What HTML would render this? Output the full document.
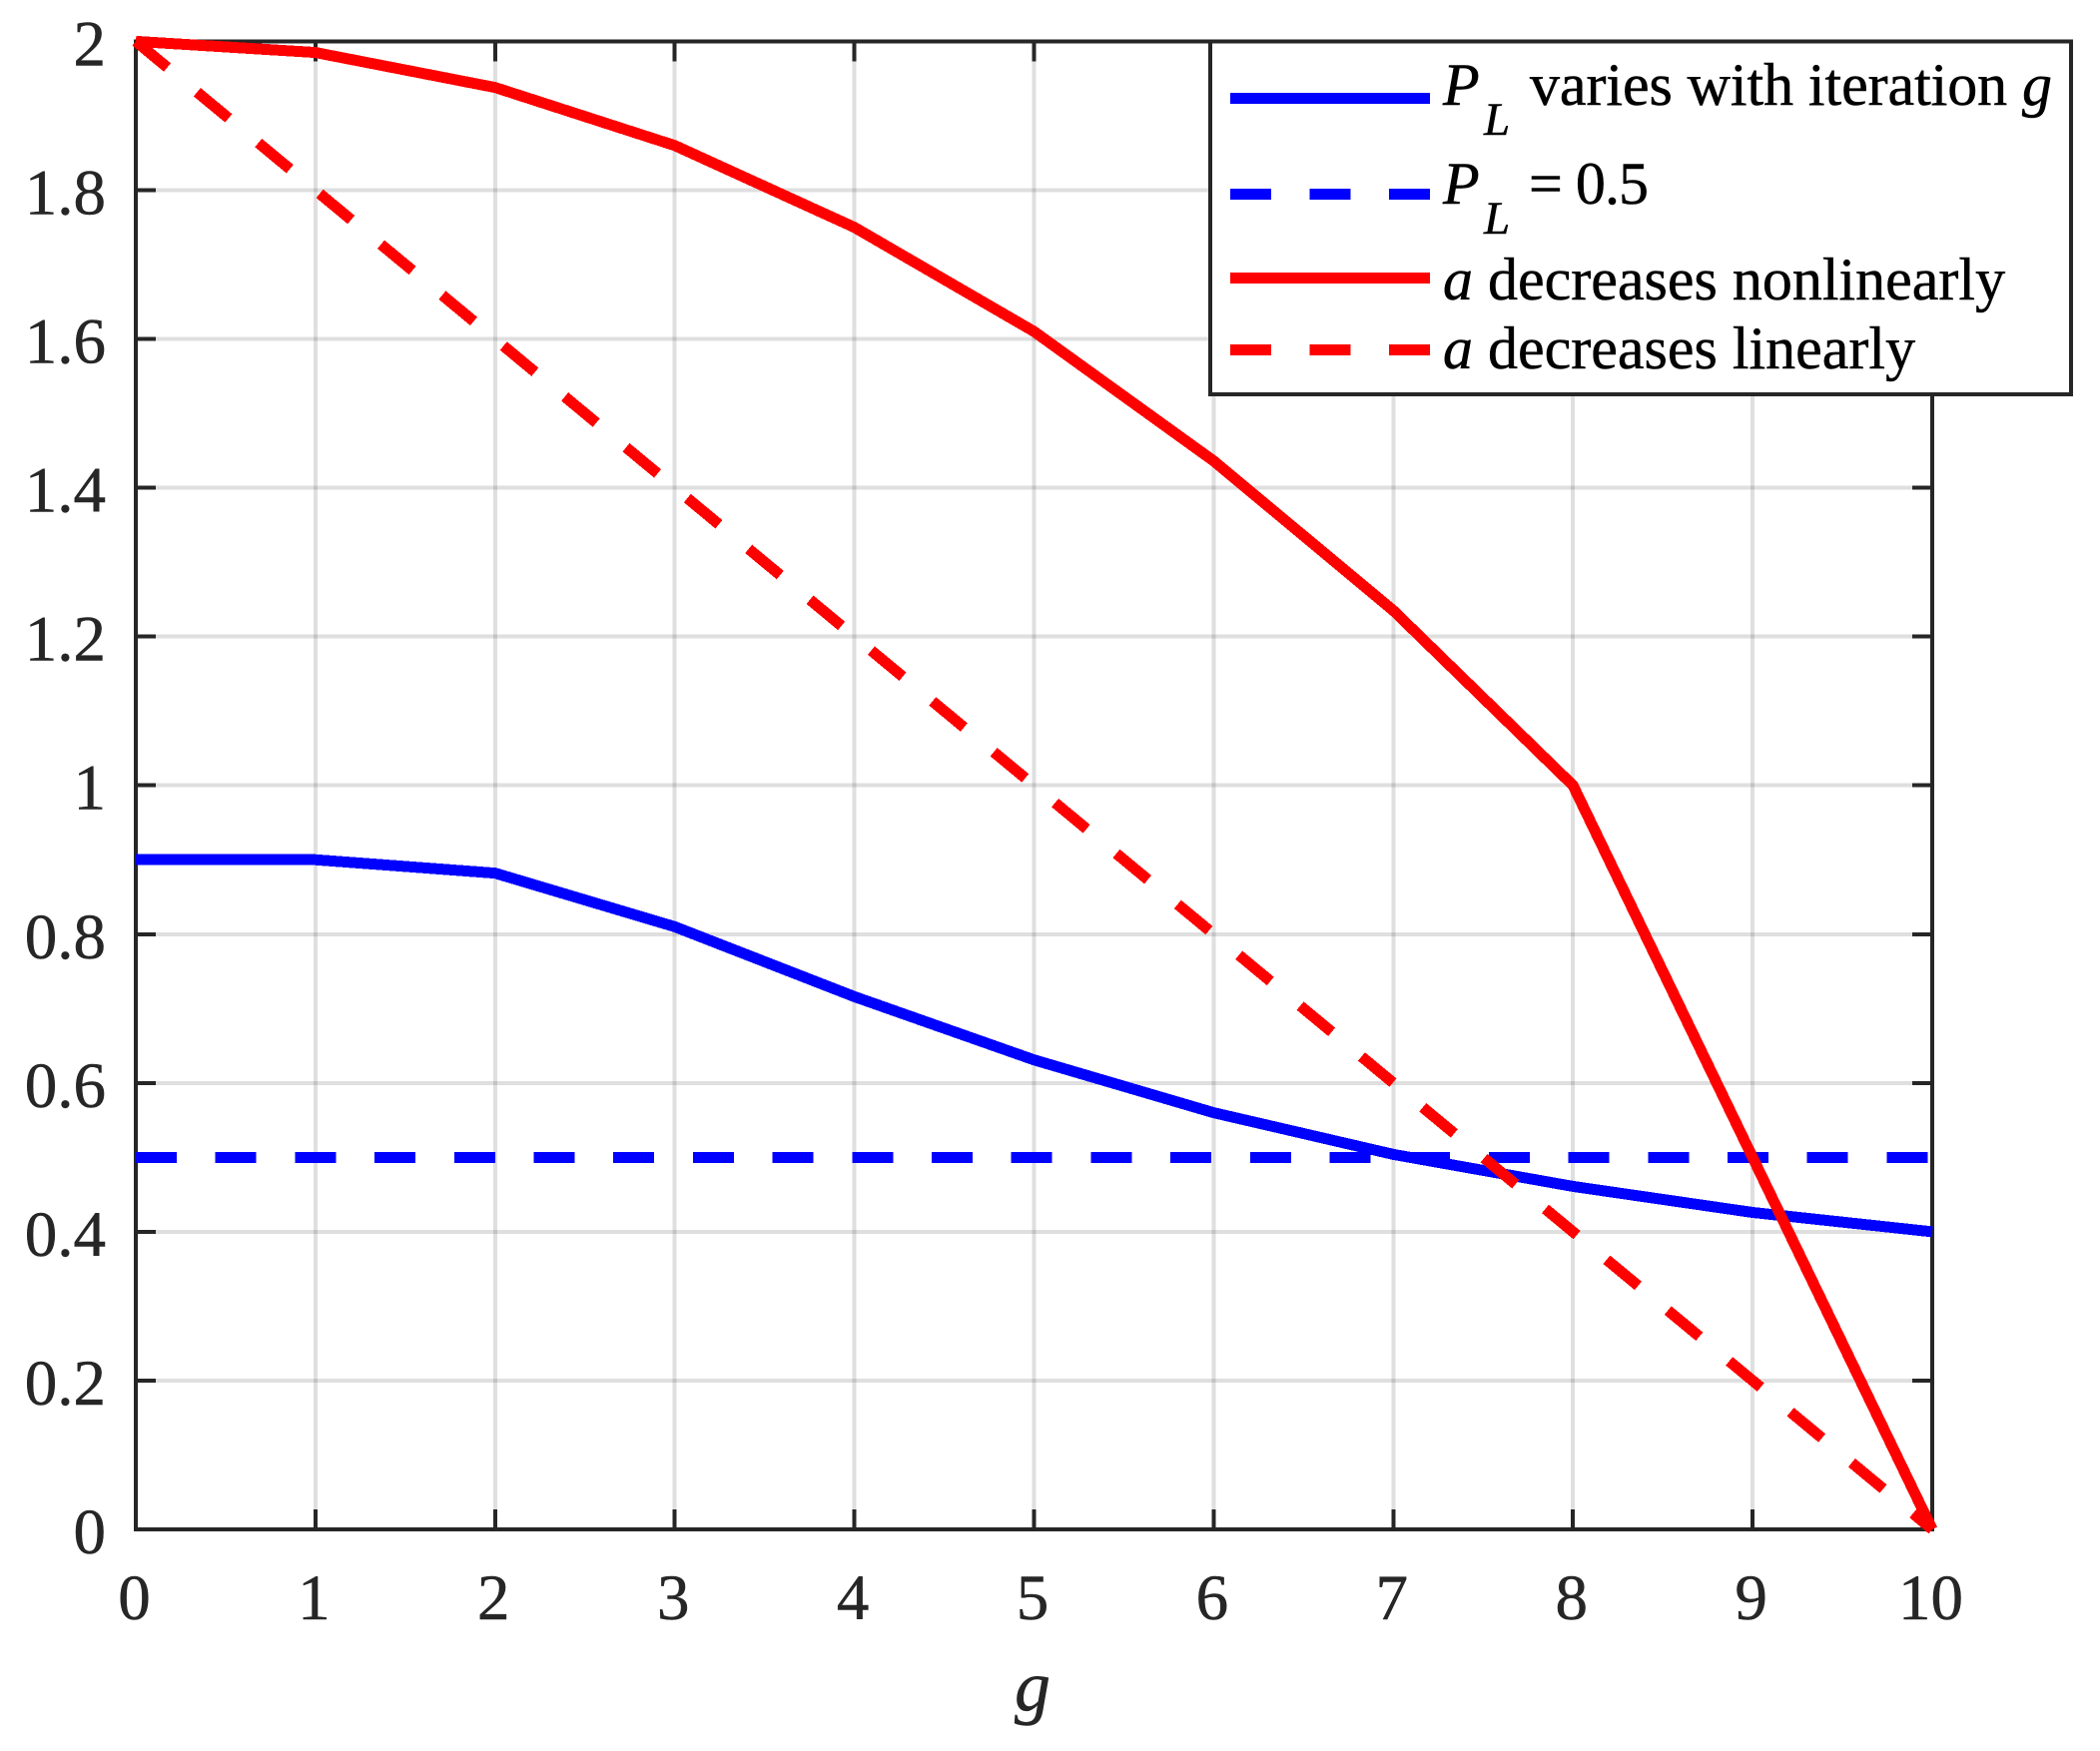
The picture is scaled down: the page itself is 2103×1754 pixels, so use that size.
<!DOCTYPE html>
<html lang="en">
<head>
<meta charset="utf-8">
<title>Parameter variation with iteration g</title>
<style>
  html, body { margin: 0; padding: 0; background: #ffffff; }
  body { width: 2103px; height: 1754px; overflow: hidden; }
  svg { display: block; }
  text { font-family: "Liberation Serif", serif; }
  .tick-text { stroke: #262626; stroke-width: 0.5px; }
  .legend-text { stroke: #000000; stroke-width: 0.5px; }
</style>
</head>
<body>
<svg id="chart" xmlns="http://www.w3.org/2000/svg" width="2103" height="1754" viewBox="0 0 2103 1754">
  <rect x="0" y="0" width="2103" height="1754" fill="#ffffff"/>
  <g id="grid" shape-rendering="crispEdges"></g>
  <g id="axes" shape-rendering="crispEdges"></g>
  <g id="series" shape-rendering="crispEdges"></g>
  <g id="labels"></g>
  <text class="tick-text" x="1034" y="1713" font-size="72" font-style="italic" text-anchor="middle" fill="#262626">g</text>
  <g>
    <rect x="1212" y="41.5" width="862" height="353.5" fill="#ffffff" stroke="#262626" stroke-width="4" shape-rendering="crispEdges"/>
    <g>
      <line x1="1232" x2="1432" y1="98.5" y2="98.5" stroke="#0000ff" stroke-width="11" shape-rendering="crispEdges"/>
      <text class="legend-text" x="1445" y="105" font-size="60" font-style="italic" fill="#000">P</text>
      <text class="legend-text" x="1486" y="135" font-size="47" font-style="italic" fill="#000">L</text>
      <text class="legend-text" x="1532" y="105" font-size="60" fill="#000" textLength="523">varies with iteration <tspan font-style="italic">g</tspan></text>
    </g>
    <g>
      <line x1="1232" x2="1432" y1="194.5" y2="194.5" stroke="#0000ff" stroke-width="11" stroke-dasharray="41 38.5" shape-rendering="crispEdges"/>
      <text class="legend-text" x="1445" y="204" font-size="60" font-style="italic" fill="#000">P</text>
      <text class="legend-text" x="1486" y="234" font-size="47" font-style="italic" fill="#000">L</text>
      <text class="legend-text" x="1531" y="204" font-size="60" fill="#000" textLength="120">= 0.5</text>
    </g>
    <g>
      <line x1="1232" x2="1432" y1="278.5" y2="278.5" stroke="#ff0000" stroke-width="11" shape-rendering="crispEdges"/>
      <text class="legend-text" x="1445" y="300" font-size="60" fill="#000"><tspan font-style="italic">a</tspan> decreases nonlinearly</text>
    </g>
    <g>
      <line x1="1232" x2="1432" y1="350.5" y2="350.5" stroke="#ff0000" stroke-width="11" stroke-dasharray="41 38.5" shape-rendering="crispEdges"/>
      <text class="legend-text" x="1445" y="369" font-size="60" fill="#000"><tspan font-style="italic">a</tspan> decreases linearly</text>
    </g>
  </g>
</svg>
<script>
var iterations = [0, 1, 2, 3, 4, 5, 6, 7, 8, 9, 10];
var plVarying = [0.9, 0.9, 0.882, 0.81, 0.716, 0.631, 0.56, 0.504, 0.461, 0.426, 0.4];
var plConstant = [0.5, 0.5];
var plConstantX = [0, 10];
var aNonlinear = [2, 1.985, 1.938, 1.86, 1.75, 1.61, 1.436, 1.235, 1, 0.5, 0];
var aLinear = [2, 1.8, 1.6, 1.4, 1.2, 1, 0.8, 0.6, 0.4, 0.2, 0];
var xTickValues = [0, 1, 2, 3, 4, 5, 6, 7, 8, 9, 10];
var xTickLabels = ['0', '1', '2', '3', '4', '5', '6', '7', '8', '9', '10'];
var yTickValues = [0, 0.2, 0.4, 0.6, 0.8, 1, 1.2, 1.4, 1.6, 1.8, 2];
var yTickLabels = ['0', '0.2', '0.4', '0.6', '0.8', '1', '1.2', '1.4', '1.6', '1.8', '2'];

var SVG_NS = 'http://www.w3.org/2000/svg';
var plot = { left: 136, right: 1935, top: 41.4, bottom: 1532, xMin: 0, xMax: 10, yMin: 0, yMax: 2 };

function xScale(v) {
  return plot.left + (v - plot.xMin) / (plot.xMax - plot.xMin) * (plot.right - plot.left);
}
function yScale(v) {
  return plot.bottom - (v - plot.yMin) / (plot.yMax - plot.yMin) * (plot.bottom - plot.top);
}
function segment(parent, x1, y1, x2, y2, color, width, opacity) {
  var l = document.createElementNS(SVG_NS, 'line');
  l.setAttribute('x1', x1);
  l.setAttribute('y1', y1);
  l.setAttribute('x2', x2);
  l.setAttribute('y2', y2);
  l.setAttribute('stroke', color);
  l.setAttribute('stroke-width', width);
  if (opacity) { l.setAttribute('stroke-opacity', opacity); }
  parent.appendChild(l);
  return l;
}
function polyline(parent, xs, ys, color, dash) {
  var p = document.createElementNS(SVG_NS, 'polyline');
  var pts = [];
  for (var i = 0; i < xs.length; i++) {
    pts.push(xScale(xs[i]).toFixed(2) + ',' + yScale(ys[i]).toFixed(2));
  }
  p.setAttribute('points', pts.join(' '));
  p.setAttribute('fill', 'none');
  p.setAttribute('stroke', color);
  p.setAttribute('stroke-width', 11);
  p.setAttribute('stroke-linejoin', 'miter');
  if (dash) { p.setAttribute('stroke-dasharray', dash); }
  parent.appendChild(p);
  return p;
}
function label(parent, x, y, str, anchor) {
  var t = document.createElementNS(SVG_NS, 'text');
  t.setAttribute('class', 'tick-text');
  t.setAttribute('x', x);
  t.setAttribute('y', y);
  t.setAttribute('font-size', 65);
  t.setAttribute('fill', '#262626');
  t.setAttribute('text-anchor', anchor);
  t.textContent = str;
  parent.appendChild(t);
  return t;
}

var gridGroup = document.getElementById('grid');
var axesGroup = document.getElementById('axes');
var seriesGroup = document.getElementById('series');
var labelGroup = document.getElementById('labels');
var AXIS = '#262626';
var el, i;

for (i = 0; i < xTickValues.length; i++) {
  el = segment(gridGroup, xScale(xTickValues[i]), plot.top, xScale(xTickValues[i]), plot.bottom, AXIS, 4, 0.15);
  
  
}
for (i = 0; i < yTickValues.length; i++) {
  el = segment(gridGroup, plot.left, yScale(yTickValues[i]), plot.right, yScale(yTickValues[i]), AXIS, 4, 0.15);
  
  
}

var frame = document.createElementNS(SVG_NS, 'rect');
frame.setAttribute('x', plot.left);
frame.setAttribute('y', plot.top);
frame.setAttribute('width', plot.right - plot.left);
frame.setAttribute('height', plot.bottom - plot.top);
frame.setAttribute('fill', 'none');
frame.setAttribute('stroke', AXIS);
frame.setAttribute('stroke-width', 4);


axesGroup.appendChild(frame);

for (i = 0; i < xTickValues.length; i++) {
  var tx = xScale(xTickValues[i]);
  el = segment(axesGroup, tx, plot.bottom, tx, plot.bottom - 20, AXIS, 4);
  
  
  el = segment(axesGroup, tx, plot.top, tx, plot.top + 20, AXIS, 4);
  
  
  el = label(labelGroup, tx - 1.5, 1622, xTickLabels[i], 'middle');
  
  
}
for (i = 0; i < yTickValues.length; i++) {
  var ty = yScale(yTickValues[i]);
  el = segment(axesGroup, plot.left, ty, plot.left + 20, ty, AXIS, 4);
  
  
  el = segment(axesGroup, plot.right, ty, plot.right - 20, ty, AXIS, 4);
  
  
  el = label(labelGroup, 106, ty + 24, yTickLabels[i], 'end');
  
  
}

el = polyline(seriesGroup, iterations, plVarying, '#0000ff');


el = polyline(seriesGroup, plConstantX, plConstant, '#0000ff', '41 38.7');


el = polyline(seriesGroup, iterations, aNonlinear, '#ff0000');


el = polyline(seriesGroup, iterations, aLinear, '#ff0000', '41 38.7');


</script>
</body>
</html>
